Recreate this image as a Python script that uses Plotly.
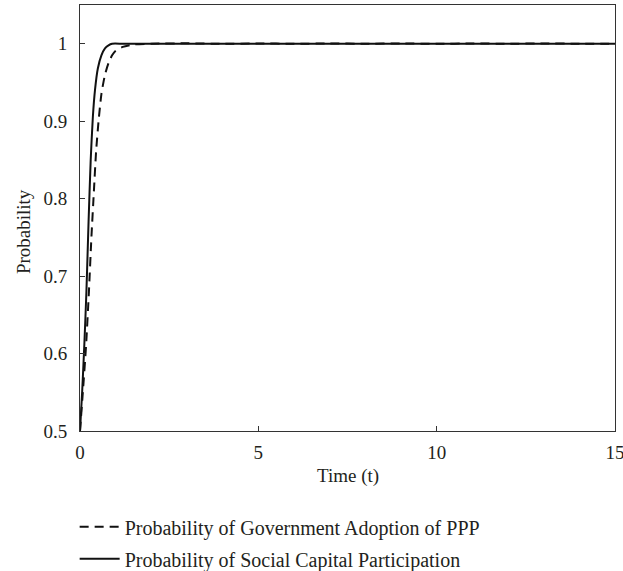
import plotly.graph_objects as go

# Time points and probabilities
t_gov = [0, 0.08, 0.17, 0.25, 0.32, 0.39, 0.45, 0.52, 0.6, 0.7, 0.8, 0.9, 1.0, 1.2, 1.5, 2.0,
         3, 4, 5, 6, 7, 8, 9, 10, 11, 12, 13, 14, 15]
p_gov = [0.5, 0.55, 0.61, 0.68, 0.75, 0.81, 0.86, 0.9, 0.935, 0.96, 0.975, 0.985, 0.991, 0.996, 0.999, 1.0,
         1.0005, 0.9998, 1.0004, 0.9999, 1.0003, 1.0, 1.0004, 0.9999, 1.0003, 1.0, 1.0004, 1.0, 1.0]

t_soc = [0, 0.06, 0.12, 0.18, 0.24, 0.30, 0.36, 0.42, 0.5, 0.6, 0.7, 0.8, 0.9, 1.2,
         2, 3, 4, 5, 6, 7, 8, 9, 10, 11, 12, 13, 14, 15]
p_soc = [0.5, 0.55, 0.61, 0.68, 0.77, 0.85, 0.905, 0.94, 0.968, 0.985, 0.994, 0.998, 1.0, 1.0,
         1.0, 1.0, 1.0, 1.0, 1.0, 1.0, 1.0, 1.0, 1.0, 1.0, 1.0, 1.0, 1.0, 1.0]

x_ticks = [0, 5, 10, 15]
y_ticks = [0.5, 0.6, 0.7, 0.8, 0.9, 1.0]
y_tick_text = ["0.5", "0.6", "0.7", "0.8", "0.9", "1"]

name_gov = "Probability of Government Adoption of PPP"
name_soc = "Probability of Social Capital Participation"

FONT = "Liberation Serif"
TXT = "#231f20"

fig = go.Figure()
fig.add_trace(go.Scatter(x=t_gov, y=p_gov, mode="lines", name=name_gov,
                         line=dict(color="#111111", width=2, dash="9px,6px", shape="spline", smoothing=0.6),
                         legend="legend"))
fig.add_trace(go.Scatter(x=t_soc, y=p_soc, mode="lines", name=name_soc,
                         line=dict(color="#111111", width=2, shape="spline", smoothing=0.6),
                         legend="legend2"))

axis_common = dict(showgrid=False, zeroline=False, showline=True, linecolor="#333333",
                   linewidth=1, mirror=True, ticks="inside", ticklen=5, tickcolor="#333333",
                   tickfont=dict(family=FONT, size=19, color=TXT), automargin=False)

fig.update_layout(
    width=623, height=571,
    margin=dict(l=80, r=8, t=5, b=140, autoexpand=False),
    paper_bgcolor="white", plot_bgcolor="white",
    font=dict(family=FONT, size=19, color=TXT),
    xaxis=dict(range=[0, 15], tickvals=x_ticks, ticklabelstandoff=4,
               ticklabeloverflow="allow", **axis_common),
    yaxis=dict(range=[0.5, 1.05], tickvals=y_ticks, ticktext=y_tick_text,
               ticklabelstandoff=8, **axis_common),
    showlegend=True,
    legend=dict(x=-0.01, xanchor="left", y=-0.225, yanchor="middle",
                bgcolor="rgba(0,0,0,0)", font=dict(family=FONT, size=20, color=TXT),
                itemwidth=40),
    legend2=dict(x=-0.01, xanchor="left", y=-0.3, yanchor="middle",
                 bgcolor="rgba(0,0,0,0)", font=dict(family=FONT, size=20, color=TXT),
                 itemwidth=40),
    annotations=[
        dict(text="Probability", xref="paper", yref="paper", x=-0.1065, y=0.467,
             textangle=-90, showarrow=False, font=dict(family=FONT, size=19, color=TXT),
             xanchor="center", yanchor="middle"),
        dict(text="Time (t)", xref="paper", yref="paper", x=0.5, y=-0.106,
             showarrow=False, font=dict(family=FONT, size=19, color=TXT),
             xanchor="center", yanchor="middle"),
    ],
)

fig.write_html("out.html")
